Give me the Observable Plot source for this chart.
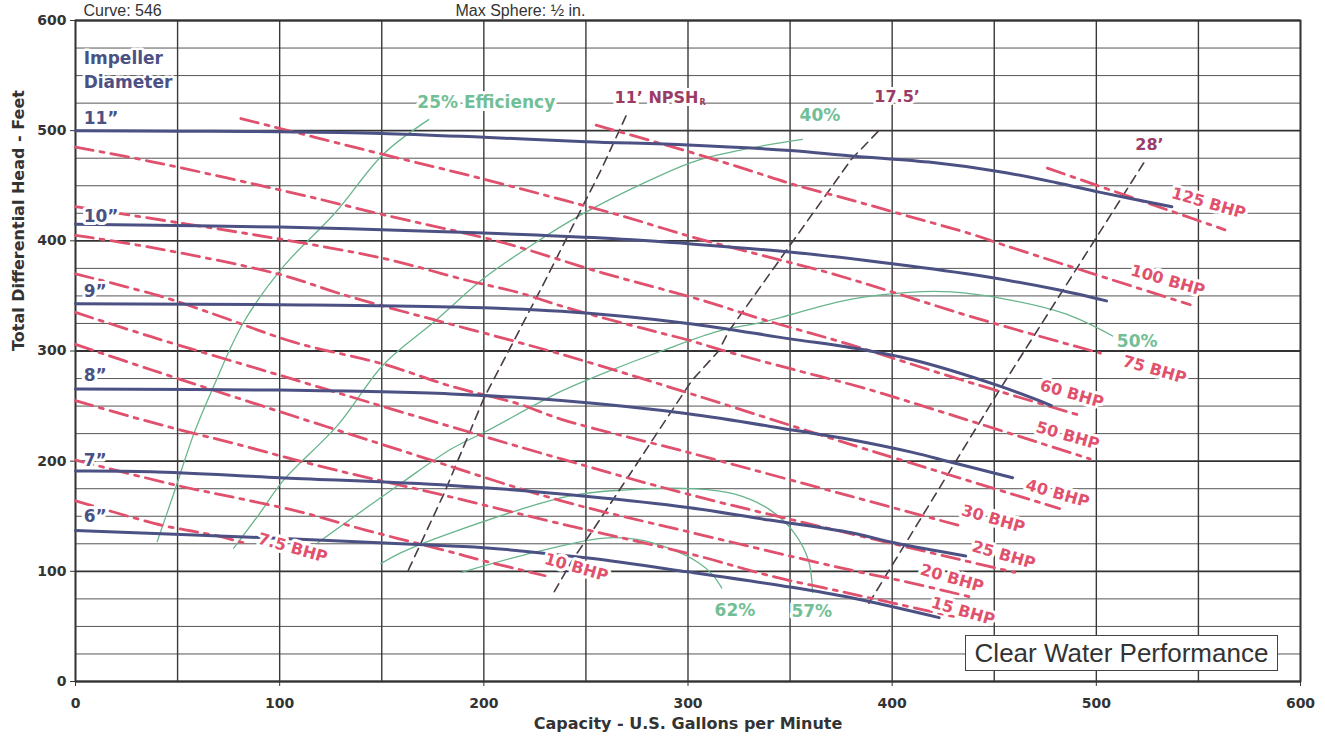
<!DOCTYPE html>
<html><head><meta charset="utf-8">
<script src="https://cdn.jsdelivr.net/npm/d3@7"></script>
<script src="https://cdn.jsdelivr.net/npm/@observablehq/plot@0.6"></script>
<style>
body{margin:0;background:#fff;}
#wrap{position:relative;width:1325px;height:739px;overflow:hidden;}
#cwp{position:absolute;left:965px;top:635px;width:313px;height:36px;border:1.4px solid #444;background:#fff;
 font:26px "Liberation Sans",Arial,sans-serif;color:#333;display:flex;align-items:center;justify-content:center;box-sizing:border-box;}
</style></head><body>
<div id="wrap"><div id="cwp">Clear Water Performance</div></div>
<script>
// ---- axis ticks ----
const xTicks = [0, 100, 200, 300, 400, 500, 600];
const yTicks = [0, 100, 200, 300, 400, 500, 600];
const xGrid = [0, 50, 100, 150, 200, 250, 300, 350, 400, 450, 500, 550, 600];
const yGrid = [0, 25, 50, 75, 100, 125, 150, 175, 200, 225, 250, 275, 300, 325, 350, 375, 400, 425, 450, 475, 500, 525, 550, 575, 600];

// ---- impeller diameter curves (gpm, ft) ----
const imp11 = [[0,500],[50,499.5],[100,499],[150,497.5],[200,494],[250,490],[300,487],[350,482],[380,477],[420,471],[452,463],[480,453],[502,444],[537,431]];
const imp10 = [[0,415],[100,412.5],[200,407],[258,402.5],[303,397],[352,389.5],[401,379],[444,368],[480,356],[505,345.5]];
const imp9  = [[0,343],[100,342],[184,340],[238,336],[300,325],[350,311],[380,303],[410,292],[452,268.5],[478,250.5]];
const imp8  = [[0,265.5],[100,264.5],[184,261],[238,255],[300,243],[352,228],[380,219.5],[410,208],[429,199],[459,185]];
const imp7  = [[0,191],[37,190.4],[100,185],[184,178],[251,168],[300,158],[340,146.5],[380,135],[401,126],[436,114]];
const imp6  = [[0,137],[86,131],[184,123],[200,121.5],[251,112],[300,99.5],[351,85.5],[380,76],[423,58]];
const impNames = ["11”", "10”", "9”", "8”", "7”", "6”"];
const impLabelQ = [4, 4, 4, 4, 4, 4];
const impLabelH = [511, 422, 353.6, 277.7, 201, 149.5];
const impTitle = ["Impeller", "Diameter"];
const impTitleH = [565.5, 544];

// ---- BHP lines ----
const bhp7_5 = [[0,164],[42,142],[70,132],[82,126]];
const bhp10  = [[0,201],[52,177],[78,167],[110,154],[143,137],[181,119],[199,110],[230,96]];
const bhp15  = [[0,255],[26,241],[52,228],[78,216],[110,200],[143,185],[176,171],[238,143],[271,129],[307,113],[340,96],[379,80],[413,66],[430,59]];
const bhp20  = [[0,306],[37,283],[100,245],[159,210],[238,164],[300,136],[380,101],[408,90],[440,76]];
const bhp25  = [[0,335],[37,313],[100,278],[159,245],[238,202],[300,170],[380,134],[460,99]];
const bhp30  = [[0,370],[43,349],[70,332],[107,308],[151,288],[184,268],[217,252],[238,238],[300,208],[380,168],[434,141]];
const bhp40  = [[0,405],[37,394],[99,370],[135,349],[238,297],[300,262],[380,215],[482,157]];
const bhp50  = [[0,431],[52,416],[102,401],[151,384],[192,364],[217,353],[243,338],[279,320],[300,310],[320,299],[352,283],[385,267],[410,253],[497,202]];
const bhp60  = [[0,485],[37,472],[110,442],[150,424],[208,399],[258,371],[307,346],[336,329],[379,306],[430,276],[493,241]];
const bhp75  = [[81,511],[143,482],[200,456],[241,436],[267,423],[303,403],[336,387],[369,371],[401,353],[439,331],[502,298]];
const bhp100 = [[255,505],[302,480],[330,464],[352,451],[382,436],[401,426],[439,406],[455,396],[546,342]];
const bhp125 = [[476,466],[563,410]];
const bhpText = ["125 BHP","100 BHP","75 BHP","60 BHP","50 BHP","40 BHP","30 BHP","25 BHP","20 BHP","15 BHP","10 BHP","7.5 BHP"];
const bhpLabelQ = [555, 535, 528.5, 488, 486, 481, 449.5, 454.6, 429.3, 434.7, 245.3, 106.4];
const bhpLabelH = [434, 364, 283, 261, 223, 170.5, 147.5, 114.8, 93.6, 63.7, 103.5, 121.1];

// ---- efficiency curves ----
const eff25 = [[40,127],[48,170],[58,225],[67.7,268],[82,325],[102,377],[127,425],[151,479],[173,510]];
const eff40 = [[77.5,121],[90,152],[102,183],[128.6,233],[151,288],[176,327],[200,366],[225,398],[246,422],[279,453],[303,472],[330,484],[356,492]];
const eff50 = [[118.7,126],[159.5,180],[184,211],[200,226],[238,263.5],[257.6,279],[287,300],[315,318],[336,326],[380,347],[410,353.5],[429,353.6],[454,347.6],[485,333.6],[508,313.6]];
const eff57 = [[149.6,107],[159.5,117],[184,135],[241,168],[270,174],[303,175],[323,170],[340,156],[352,135],[359,110],[361,81]];
const eff62 = [[189,99],[220,115],[257.6,130],[275,129],[290.5,121],[305,108],[312,97],[316.5,85]];
const effText = ["25% Efficiency", "40%", "50%", "57%", "62%"];
const effLabelQ = [201.2, 364.6, 520, 360.6, 323];
const effLabelH = [525.7, 513.8, 309, 63.8, 64.4];

// ---- NPSHr curves ----
const npsh11 = [[163,101],[180.6,171],[200,257],[229,360],[257.6,465],[270.8,518]];
const npsh17 = [[234.5,81.5],[244,112],[254,139],[301.8,273],[315,300],[320,318],[380,474],[394,501]];
const npsh28 = [[388.6,71],[452,263],[457,277.5],[524,473]];
const npshMainText = ["11’ NPSH"];
const npshMainQ = [264];
const npshMainH = [530];
const npshText = ["17.5’", "28’"];
const npshLabelQ = [402.4, 526];
const npshLabelH = [530.6, 487.4];

const xTitle = "Capacity - U.S. Gallons per Minute";
const yTitle = "Total Differential Head - Feet";
const topTitles = ["Curve: 546", "Max Sphere: ½ in."];

// ---- build tables ----
const toRows = (name, pts) => pts.map(([q, h]) => ({name, q, h}));
const impRows = [imp11, imp10, imp9, imp8, imp7, imp6].flatMap((p, i) => toRows(impNames[i], p));
const bhpRows = [bhp125, bhp100, bhp75, bhp60, bhp50, bhp40, bhp30, bhp25, bhp20, bhp15, bhp10, bhp7_5].flatMap((p, i) => toRows(bhpText[i], p));
const effRows = [eff25, eff40, eff50, eff57, eff62].flatMap((p, i) => toRows(effText[i], p));
const npshRows = [npsh11, npsh17, npsh28].flatMap((p, i) => toRows("n" + i, p));
const lab = (t, q, h) => t.map((text, i) => ({text, q: q[i], h: h[i]}));

const BLUE = "#4c5184", RED = "#e0516d", GREEN = "#68b58c", NPSH = "#4a3b48", MAROON = "#9a3c66";
const F = "'DejaVu Sans', 'Liberation Sans', sans-serif";

const chart = Plot.plot({
  width: 1325, height: 739,
  marginTop: 20, marginBottom: 58, marginLeft: 75, marginRight: 25,
  style: {fontFamily: F, fontWeight: "bold", fontSize: "14px", color: "#333", background: "transparent", overflow: "visible"},
  x: {domain: [0, 600], ticks: xTicks, tickSize: 5, tickPadding: 12, label: null},
  y: {domain: [0, 600], ticks: yTicks, tickSize: 5, tickPadding: 4, label: null},
  marks: [
    Plot.ruleY(yGrid.filter(v => v % 100 !== 0), {stroke: "#444", strokeWidth: 1, strokeOpacity: 0.9}),
    Plot.ruleY(yGrid.filter(v => v % 100 === 0), {stroke: "#333", strokeWidth: 1.8}),
    Plot.ruleX(xGrid, {stroke: "#3a3a3a", strokeWidth: 1.4}),
    Plot.frame({stroke: "#333", strokeWidth: 1.8}),
    Plot.line(effRows, {x: "q", y: "h", z: "name", stroke: GREEN, strokeWidth: 1.3, curve: "catmull-rom"}),
    Plot.line(npshRows, {x: "q", y: "h", z: "name", stroke: NPSH, strokeWidth: 1.6, strokeDasharray: "9,6"}),
    Plot.line(bhpRows, {x: "q", y: "h", z: "name", stroke: RED, strokeWidth: 2.8, strokeDasharray: "18,7,4,7", curve: "catmull-rom"}),
    Plot.line(impRows, {x: "q", y: "h", z: "name", stroke: BLUE, strokeWidth: 3, curve: "catmull-rom"}),
    // labels
    Plot.text(lab(bhpText, bhpLabelQ, bhpLabelH), {x: "q", y: "h", text: "text", rotate: 16, fill: RED, fontSize: 16, fontWeight: "bold", stroke: "white", strokeWidth: 6}),
    Plot.text(lab(effText, effLabelQ, effLabelH), {x: "q", y: "h", text: "text", fill: "#72bf97", fontSize: 17, fontWeight: "bold", stroke: "white", strokeWidth: 6}),
    Plot.text(lab(npshMainText, npshMainQ, npshMainH), {x: "q", y: "h", text: "text", textAnchor: "start", fill: MAROON, fontSize: 16, fontWeight: "bold", stroke: "white", strokeWidth: 6}),
    Plot.text(lab(["R"], npshMainQ, npshMainH), {x: "q", y: "h", text: "text", textAnchor: "start", dx: 85, dy: 5, fill: MAROON, fontSize: 8, fontWeight: "bold"}),
    Plot.text(lab(npshText, npshLabelQ, npshLabelH), {x: "q", y: "h", text: "text", fill: MAROON, fontSize: 16, fontWeight: "bold", stroke: "white", strokeWidth: 6}),
    Plot.text(lab(impNames, impLabelQ, impLabelH), {x: "q", y: "h", text: "text", textAnchor: "start", fill: BLUE, fontSize: 17, fontWeight: "bold", stroke: "white", strokeWidth: 6}),
    Plot.text(lab(impTitle, impLabelQ, impTitleH), {x: "q", y: "h", text: "text", textAnchor: "start", fill: BLUE, fontSize: 17, fontWeight: "bold", stroke: "white", strokeWidth: 5}),
    // axis titles
    Plot.text([xTitle], {frameAnchor: "bottom", dy: 47, text: d => d, fontSize: 16, fontWeight: "bold", fill: "#333"}),
    Plot.text([yTitle], {frameAnchor: "left", dx: -57, rotate: -90, text: d => d, fontSize: 16, fontWeight: "bold", fill: "#333"}),
    Plot.text([topTitles[0]], {frameAnchor: "top-left", dx: 8, dy: -5, lineAnchor: "bottom", textAnchor: "start", text: d => d, fontFamily: "'Liberation Sans', Arial", fontWeight: "normal", fontSize: 16, fill: "#333"}),
    Plot.text([topTitles[1]], {frameAnchor: "top-left", dx: 380, dy: -5, lineAnchor: "bottom", textAnchor: "start", text: d => d, fontFamily: "'Liberation Sans', Arial", fontWeight: "normal", fontSize: 16, fill: "#333"})
  ]
});
document.getElementById("wrap").prepend(chart);
</script>
</body></html>
